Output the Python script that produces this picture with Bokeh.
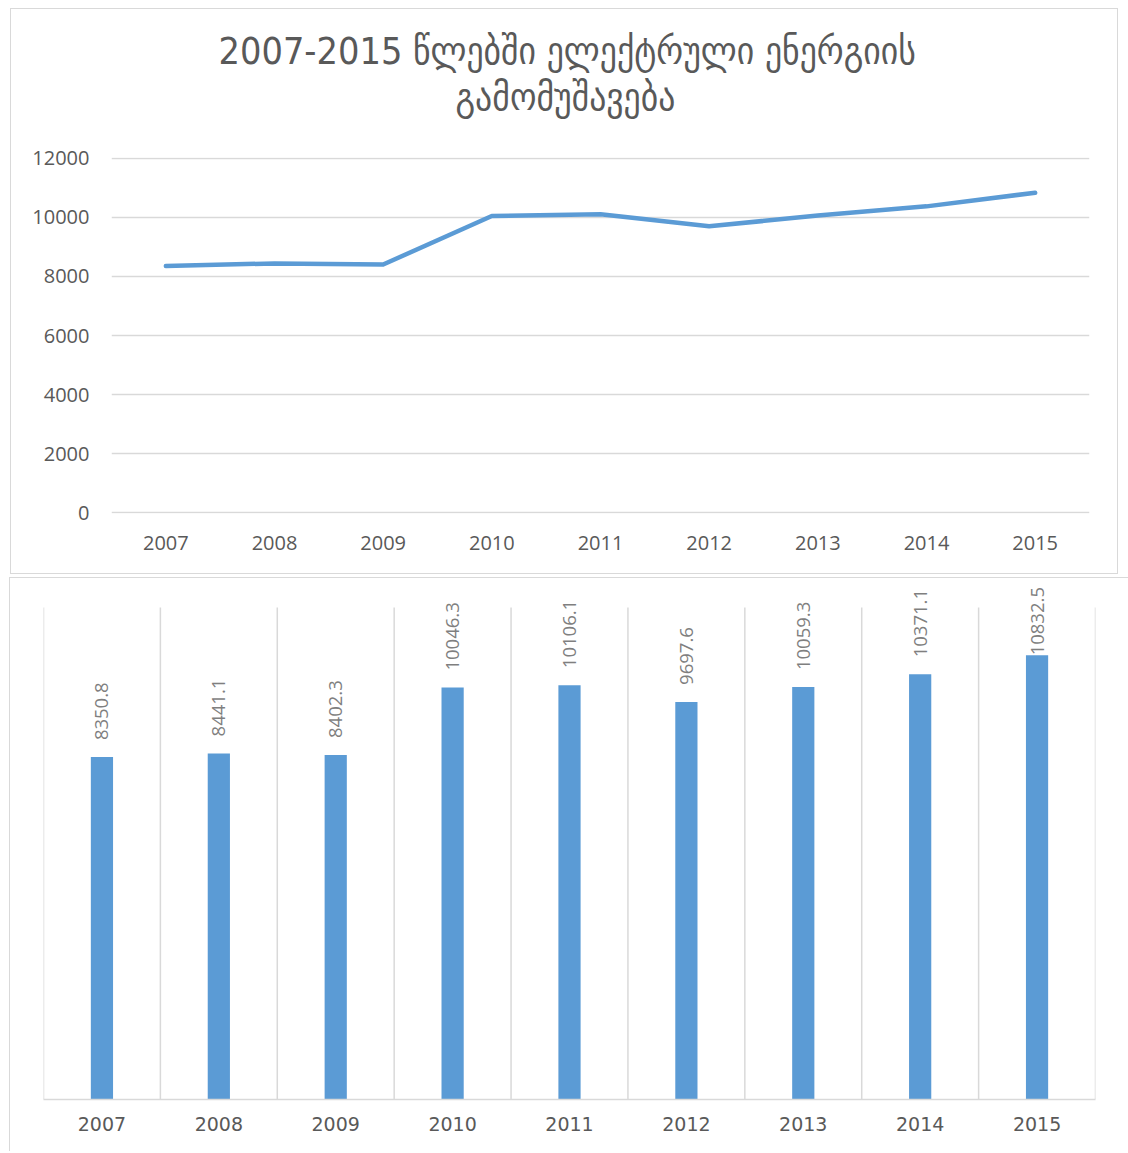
import math
from bokeh.plotting import figure
from bokeh.models import Range1d, FixedTicker, Title
from bokeh.embed import file_html
from bokeh.resources import INLINE
from bokeh.core.properties import value

years = [2007, 2008, 2009, 2010, 2011, 2012, 2013, 2014, 2015]
production = [8350.8, 8441.1, 8402.3, 10046.3, 10106.1, 9697.6, 10059.3, 10371.1, 10832.5]
y_ticks = [0, 2000, 4000, 6000, 8000, 10000, 12000]
title_line1 = "2007-2015 წლებში ელექტრული ენერგიის"
title_line2 = "გამომუშავება"

BLUE = "#5B9BD5"
GRID = "#d9d9d9"
TXT = "#595959"
FONT = "Open Sans"
TFONT = "DejaVu Sans Condensed"

# ---------- top: line chart ----------
top = figure(width=1108, height=566, output_backend="svg", toolbar_location=None,
             title=None,
             x_range=Range1d(years[0] - 0.5, years[-1] + 0.5),
             y_range=Range1d(-25, 12025),
             min_border_left=100, min_border_right=30, min_border_bottom=62,
             min_border_top=148)
top.margin = (8, 0, 0, 10)
top.styles = {"border": "1px solid " + GRID, "box-sizing": "border-box"}
top.outline_line_color = None

# spacer between the title and the plot area, then the two title lines
top.add_layout(Title(text=" ", text_font_size="20px", standoff=15), "above")
top.add_layout(Title(text=title_line2, align="left", offset=344, text_font=TFONT,
                     text_font_size="37.5px", text_font_style="normal", text_color=TXT,
                     standoff=0), "above")
top.add_layout(Title(text=title_line1, align="left", offset=107, text_font=TFONT,
                     text_font_size="37.5px", text_font_style="normal", text_color=TXT,
                     standoff=0), "above")

top.line(years, production, line_color=BLUE, line_width=4.5, line_cap="round", line_join="round")

top.xaxis.ticker = FixedTicker(ticks=years)
top.yaxis.ticker = FixedTicker(ticks=y_ticks)
for ax in (top.xaxis, top.yaxis):
    ax.axis_line_color = None
    ax.major_tick_line_color = None
    ax.minor_tick_line_color = None
    ax.major_tick_out = 0
    ax.major_label_text_font = FONT
    ax.major_label_text_font_size = "20px"
    ax.major_label_text_color = TXT
top.yaxis.major_label_standoff = 22
top.xaxis.major_label_standoff = 22
top.xgrid.grid_line_color = None
top.ygrid.grid_line_color = GRID
top.ygrid.grid_line_width = 1.5

# ---------- bottom: bar chart ----------
ymax = 12000 * 520 / 492
bot = figure(width=1119, height=574, output_backend="svg", toolbar_location=None,
             title=None, y_axis_location=None,
             x_range=Range1d(years[0] - 0.5, years[-1] + 0.5),
             y_range=Range1d(0, ymax),
             min_border_left=33, min_border_right=34, min_border_bottom=53,
             min_border_top=1)
bot.margin = (3, 0, 0, 9)
bot.styles = {"border-top": "1px solid " + GRID, "border-left": "1px solid " + GRID,
              "box-sizing": "border-box"}
bot.outline_line_color = None
bot.xgrid.grid_line_color = None
bot.ygrid.grid_line_color = None

bounds = [y - 0.5 for y in years] + [years[-1] + 0.5]
bot.segment(x0=bounds, y0=[0] * len(bounds), x1=bounds, y1=[12000] * len(bounds),
            line_color=GRID, line_width=1.5)

bot.vbar(x=years, top=production, width=0.19, bottom=0, fill_color=BLUE, line_color=None)

labels = ["%.1f" % v for v in production]
offsets = [-17 if v < 10500 else 0 for v in production]
bot.text(x=years, y=production, text=labels, angle=math.pi / 2, text_align="left",
         text_baseline="middle", y_offset=offsets, text_font=value(FONT),
         text_font_size="18.5px", text_color="#7f7f7f")

bot.xaxis.ticker = FixedTicker(ticks=years)
bot.xaxis.axis_line_color = GRID
bot.xaxis.axis_line_width = 1.5
bot.xaxis.major_tick_line_color = None
bot.xaxis.minor_tick_line_color = None
bot.xaxis.major_tick_out = 0
bot.xaxis.major_label_text_font = "DejaVu Sans"
bot.xaxis.major_label_text_font_size = "19px"
bot.xaxis.major_label_text_color = TXT
bot.xaxis.major_label_standoff = 17

open("out.html", "w").write(file_html([top, bot], INLINE))
